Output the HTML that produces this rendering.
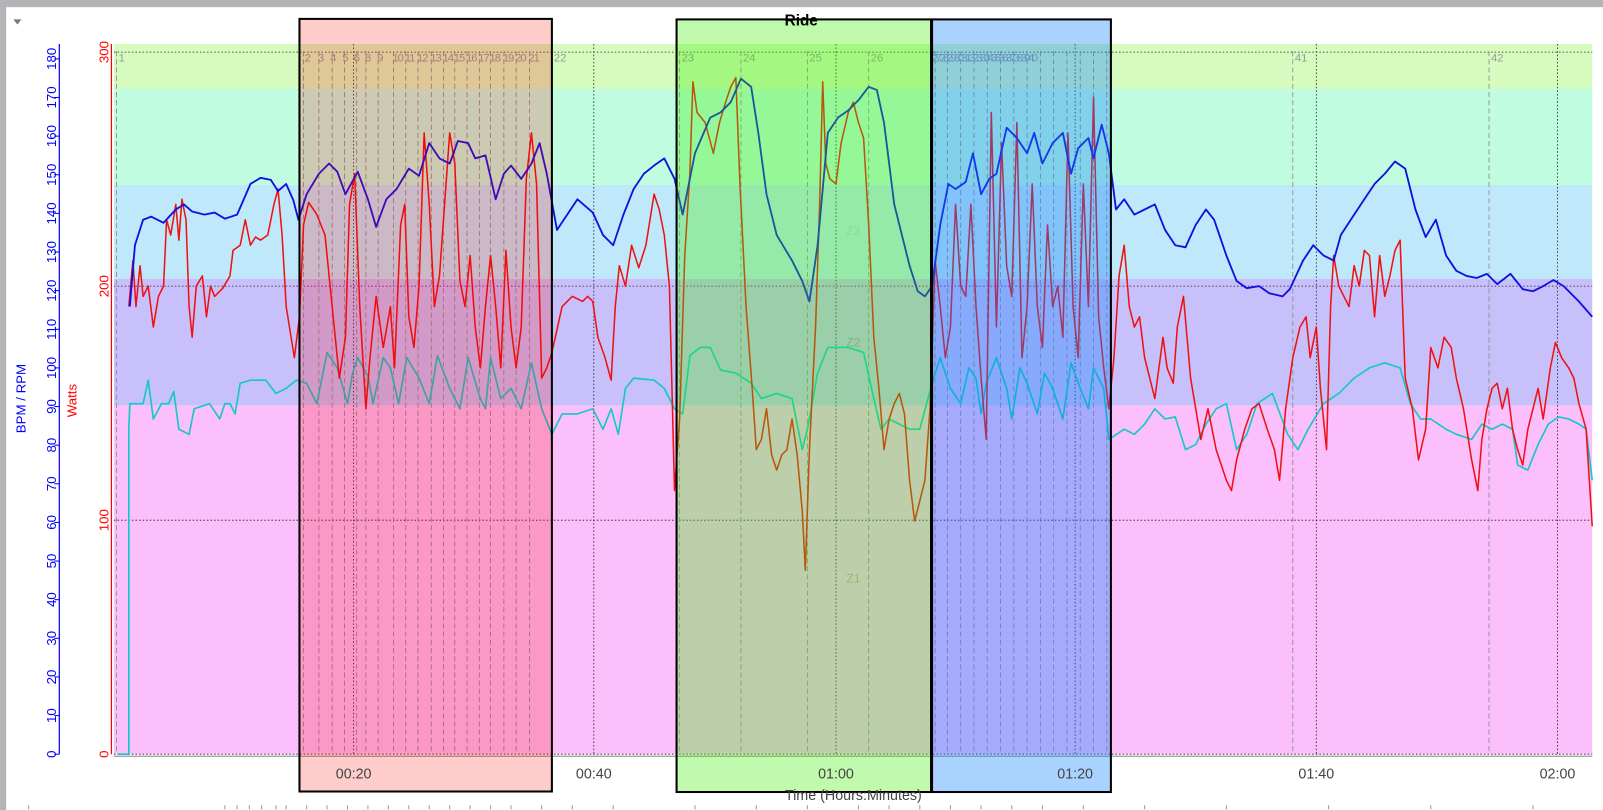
<!DOCTYPE html>
<html><head><meta charset="utf-8"><style>
html,body{margin:0;padding:0;background:#fff;}
svg{display:block;}
</style></head><body>
<svg width="1603" height="810" viewBox="0 0 1568.5 792.6" xmlns="http://www.w3.org/2000/svg" font-family="Liberation Sans, sans-serif">
<rect x="0" y="0" width="1568.5" height="792.6" fill="#fff"/>
<rect x="0" y="0" width="1568.5" height="7" fill="#b4b4b8"/>
<rect x="0" y="0" width="6" height="792.6" fill="#b4b4b8"/>
<path d="M13 19 l8 0 l-4 5 z" fill="#777"/>
<rect x="111.5" y="43" width="1446.5" height="44" fill="#d6fbbf"/>
<rect x="111.5" y="87" width="1446.5" height="94" fill="#c0fde0"/>
<rect x="111.5" y="181" width="1446.5" height="92" fill="#c0e8fb"/>
<rect x="111.5" y="273" width="1446.5" height="124" fill="#c8c0fb"/>
<rect x="111.5" y="397" width="1446.5" height="341" fill="#fbbffb"/>
<g stroke="#222" stroke-width="0.8" stroke-dasharray="1.5,2">
<line x1="111.5" y1="51" x2="1558" y2="51"/><line x1="111.5" y1="280" x2="1558" y2="280"/>
<line x1="111.5" y1="509" x2="1558" y2="509"/><line x1="111.5" y1="738" x2="1558" y2="738"/>
<line x1="346" y1="43" x2="346" y2="740"/><line x1="581" y1="43" x2="581" y2="740"/>
<line x1="818" y1="43" x2="818" y2="740"/><line x1="1052" y1="43" x2="1052" y2="740"/>
<line x1="1288" y1="43" x2="1288" y2="740"/><line x1="1524" y1="43" x2="1524" y2="740"/>
</g>
<line x1="111.5" y1="740" x2="1558" y2="740" stroke="#999" stroke-width="1.2"/>
<g stroke="#888" stroke-width="0.8" stroke-dasharray="5,3">
<line x1="114" y1="50" x2="114" y2="738"/><line x1="297" y1="50" x2="297" y2="738"/><line x1="312" y1="50" x2="312" y2="738"/><line x1="325" y1="50" x2="325" y2="738"/><line x1="337" y1="50" x2="337" y2="738"/><line x1="349" y1="50" x2="349" y2="738"/><line x1="358" y1="50" x2="358" y2="738"/><line x1="370" y1="50" x2="370" y2="738"/><line x1="385" y1="50" x2="385" y2="738"/><line x1="397" y1="50" x2="397" y2="738"/><line x1="409" y1="50" x2="409" y2="738"/><line x1="422" y1="50" x2="422" y2="738"/><line x1="434" y1="50" x2="434" y2="738"/><line x1="445" y1="50" x2="445" y2="738"/><line x1="457" y1="50" x2="457" y2="738"/><line x1="469" y1="50" x2="469" y2="738"/><line x1="480" y1="50" x2="480" y2="738"/><line x1="493" y1="50" x2="493" y2="738"/><line x1="505" y1="50" x2="505" y2="738"/><line x1="518" y1="50" x2="518" y2="738"/><line x1="540" y1="50" x2="540" y2="738"/><line x1="665" y1="50" x2="665" y2="738"/><line x1="725" y1="50" x2="725" y2="738"/><line x1="790" y1="50" x2="790" y2="738"/><line x1="850" y1="50" x2="850" y2="738"/>
<line x1="915" y1="50" x2="915" y2="738"/><line x1="927" y1="50" x2="927" y2="738"/><line x1="940" y1="50" x2="940" y2="738"/><line x1="953" y1="50" x2="953" y2="738"/><line x1="966" y1="50" x2="966" y2="738"/><line x1="979" y1="50" x2="979" y2="738"/><line x1="992" y1="50" x2="992" y2="738"/><line x1="1005" y1="50" x2="1005" y2="738"/><line x1="1018" y1="50" x2="1018" y2="738"/><line x1="1031" y1="50" x2="1031" y2="738"/><line x1="1044" y1="50" x2="1044" y2="738"/><line x1="1057" y1="50" x2="1057" y2="738"/><line x1="1070" y1="50" x2="1070" y2="738"/><line x1="1083" y1="50" x2="1083" y2="738"/>
<line x1="1265" y1="50" x2="1265" y2="738"/><line x1="1457" y1="50" x2="1457" y2="738"/>
</g>
<g fill="#999" font-size="11">
<text x="116" y="60">1</text><text x="298" y="60">2</text><text x="311" y="60">3</text><text x="323" y="60">4</text><text x="335" y="60">5</text><text x="346" y="60">6</text><text x="357" y="60">8</text><text x="369" y="60">9</text><text x="384" y="60" letter-spacing="-1">10</text><text x="396" y="60" letter-spacing="-1">11</text><text x="408" y="60" letter-spacing="-1">12</text><text x="421" y="60" letter-spacing="-1">13</text><text x="433" y="60" letter-spacing="-1">14</text><text x="444" y="60" letter-spacing="-1">15</text><text x="456" y="60" letter-spacing="-1">16</text><text x="468" y="60" letter-spacing="-1">17</text><text x="479" y="60" letter-spacing="-1">18</text><text x="492" y="60" letter-spacing="-1">19</text><text x="504" y="60" letter-spacing="-1">20</text><text x="517" y="60" letter-spacing="-1">21</text><text x="542" y="60">22</text><text x="667" y="60">23</text><text x="727" y="60">24</text><text x="792" y="60">25</text><text x="852" y="60">26</text>
<text x="912" y="60" letter-spacing="-2.5">2728293031323334353637383940</text>
<text x="1267" y="60">41</text><text x="1459" y="60">42</text>
</g>
<g font-size="12">
<text x="828" y="230" fill="#9dd">Z3</text><text x="828" y="339" fill="#99b">Z2</text><text x="828" y="570" fill="#c9a">Z1</text>
</g>
<polyline fill="none" stroke="#14c8c8" stroke-width="1.6" stroke-linejoin="round" points="115,738 126,738 126,420 127,395 135,395 140,395 145,372 150,410 158,395 165,395 170,383 175,420 185,425 190,400 205,395 215,410 220,395 225,395 230,405 235,375 245,372 260,372 270,385 280,380 290,372 300,375 310,395 320,345 330,360 340,395 345,365 350,350 360,368 365,395 375,350 382,360 390,395 398,350 410,370 420,395 428,348 440,380 450,400 458,350 470,390 475,400 480,350 490,390 500,380 510,400 520,355 530,400 540,425 550,405 565,405 580,400 590,420 598,400 605,425 612,380 620,370 640,372 650,380 660,400 668,405 675,348 685,340 695,340 705,362 720,365 735,375 745,390 760,385 775,390 785,440 790,420 800,365 810,340 830,340 845,345 855,390 862,420 870,410 880,415 890,420 900,420 912,375 920,350 930,380 940,395 948,360 955,370 960,405 965,375 975,350 985,380 990,410 998,360 1005,375 1015,405 1022,365 1030,380 1040,410 1048,355 1055,375 1065,400 1070,360 1080,380 1085,430 1100,420 1110,425 1120,415 1130,400 1140,410 1150,408 1160,440 1170,435 1180,415 1190,400 1200,395 1210,440 1220,425 1230,395 1245,385 1260,425 1270,440 1280,420 1295,395 1310,385 1325,370 1340,360 1355,355 1370,360 1380,395 1390,410 1400,410 1415,420 1425,425 1440,430 1450,415 1460,420 1470,415 1480,420 1485,455 1495,460 1505,435 1515,415 1525,408 1535,410 1545,415 1552,420 1558,470"/>
<polyline fill="none" stroke="#f01010" stroke-width="1.5" stroke-linejoin="round" points="126,300 130,255 133,300 137,260 140,290 145,280 150,320 155,290 160,280 163,215 167,230 172,200 175,235 178,195 182,215 185,300 188,330 192,280 198,270 202,310 206,280 210,290 218,282 225,270 228,245 235,240 240,215 245,240 250,232 255,235 262,230 268,200 272,185 276,230 280,300 288,350 293,310 297,220 302,198 310,210 318,230 325,300 332,370 338,330 342,200 347,170 352,300 358,400 362,350 368,290 375,340 382,300 386,360 392,220 396,200 400,310 405,340 410,280 415,130 420,200 425,300 430,270 435,200 440,130 445,160 450,275 455,300 460,250 465,320 470,360 475,300 480,250 485,300 490,360 495,245 500,320 505,360 510,320 515,175 520,130 525,180 530,370 535,360 540,345 550,300 560,290 570,295 575,290 580,295 585,330 592,350 598,372 602,300 606,260 612,280 618,240 625,262 632,240 640,190 645,205 650,230 655,280 660,480 665,410 670,250 675,170 678,80 682,110 690,120 698,150 704,120 710,100 715,85 720,76 724,180 730,300 736,380 740,440 745,430 750,400 755,445 760,460 765,445 770,440 775,410 780,445 785,500 788,558 792,440 798,320 802,200 805,80 808,160 812,175 818,180 823,140 830,110 835,100 840,120 845,135 850,220 855,330 860,380 865,440 870,410 875,395 880,385 885,405 890,470 895,510 900,490 905,470 910,400 915,255 920,300 925,350 930,320 935,200 940,280 945,290 950,200 955,300 960,370 965,430 970,110 975,320 980,140 985,260 990,290 995,120 1000,350 1005,300 1010,180 1015,300 1020,340 1025,220 1030,300 1035,280 1040,330 1045,130 1050,300 1055,350 1060,180 1065,300 1070,95 1075,310 1080,360 1085,400 1090,350 1095,270 1100,240 1105,300 1110,320 1115,310 1120,350 1130,390 1138,330 1142,360 1148,375 1152,320 1158,290 1165,370 1170,400 1175,430 1182,400 1190,440 1200,470 1205,480 1210,450 1218,420 1225,400 1232,395 1240,420 1247,440 1252,470 1258,400 1265,350 1272,320 1278,310 1282,350 1288,320 1292,380 1298,440 1302,300 1305,250 1310,280 1320,300 1325,260 1330,280 1335,245 1340,250 1345,310 1350,250 1355,290 1360,270 1365,245 1370,235 1375,370 1382,400 1388,450 1395,420 1400,340 1407,360 1413,330 1420,340 1425,370 1432,400 1440,450 1446,480 1450,430 1455,400 1460,380 1465,375 1470,400 1475,380 1480,420 1485,440 1490,455 1495,420 1500,400 1505,380 1510,410 1517,360 1522,335 1528,350 1535,360 1540,370 1545,395 1552,420 1558,515"/>
<polyline fill="none" stroke="#1010e0" stroke-width="1.8" stroke-linejoin="round" points="127,300 132,240 140,215 148,212 160,218 172,205 180,200 188,207 200,210 210,208 220,214 232,210 245,180 255,174 265,176 272,187 280,180 287,196 292,215 300,190 312,170 322,160 330,168 338,190 350,168 360,195 368,222 378,195 388,185 400,165 410,172 420,140 430,155 440,160 448,138 458,140 465,155 475,152 485,195 493,170 500,162 510,175 520,160 528,140 535,170 545,225 555,210 565,195 580,208 590,230 600,240 610,210 620,185 630,170 640,162 650,155 660,175 668,210 680,150 695,115 705,110 715,100 725,77 735,85 742,130 750,190 760,230 775,255 785,275 792,295 800,240 810,130 820,115 830,108 840,98 850,85 858,88 865,120 875,200 890,260 898,285 905,290 912,280 920,220 928,180 935,185 945,178 952,150 960,190 968,175 975,170 985,125 995,135 1005,150 1012,130 1020,160 1030,140 1040,130 1048,170 1055,145 1065,135 1070,155 1078,122 1085,150 1092,205 1100,195 1110,210 1120,205 1130,200 1140,225 1150,240 1160,242 1170,220 1180,205 1188,215 1200,250 1210,275 1220,282 1232,280 1242,287 1255,290 1262,283 1275,255 1285,240 1295,250 1305,255 1312,230 1325,210 1335,195 1345,180 1355,170 1365,158 1375,165 1385,205 1395,232 1405,215 1415,250 1425,265 1435,270 1445,272 1455,268 1465,278 1478,268 1490,283 1500,285 1510,280 1520,274 1530,280 1545,295 1558,310"/>
<rect x="293" y="18.5" width="247" height="756" fill="rgba(255,0,0,0.2)" stroke="#000" stroke-width="2"/>
<rect x="662" y="19" width="249" height="756" fill="rgba(60,240,0,0.32)" stroke="#000" stroke-width="2"/>
<rect x="912" y="19" width="175" height="756" fill="rgba(20,130,255,0.36)" stroke="#000" stroke-width="2"/>
<text x="784" y="25" font-size="15" font-weight="bold" fill="#000" text-anchor="middle">Ride</text>
<line x1="109" y1="43" x2="109" y2="738" stroke="#f00" stroke-width="1.2"/>
<line x1="58" y1="43" x2="58" y2="738" stroke="#00f" stroke-width="1.2"/>
<g font-size="13" fill="#f00">
<text transform="translate(106,51) rotate(-90)" text-anchor="middle">300</text>
<text transform="translate(106,280) rotate(-90)" text-anchor="middle">200</text>
<text transform="translate(106,509) rotate(-90)" text-anchor="middle">100</text>
<text transform="translate(106,738) rotate(-90)" text-anchor="middle">0</text>
<text transform="translate(75,392) rotate(-90)" text-anchor="middle">Watts</text>
</g>
<g stroke="#00f" stroke-width="1">
<line x1="53" y1="738" x2="58" y2="738"/><line x1="53" y1="700.2" x2="58" y2="700.2"/><line x1="53" y1="662.4" x2="58" y2="662.4"/><line x1="53" y1="624.6" x2="58" y2="624.6"/><line x1="53" y1="586.8" x2="58" y2="586.8"/><line x1="53" y1="549" x2="58" y2="549"/><line x1="53" y1="511.2" x2="58" y2="511.2"/><line x1="53" y1="473.4" x2="58" y2="473.4"/><line x1="53" y1="435.6" x2="58" y2="435.6"/><line x1="53" y1="397.8" x2="58" y2="397.8"/><line x1="53" y1="360" x2="58" y2="360"/><line x1="53" y1="322.2" x2="58" y2="322.2"/><line x1="53" y1="284.4" x2="58" y2="284.4"/><line x1="53" y1="246.6" x2="58" y2="246.6"/><line x1="53" y1="208.8" x2="58" y2="208.8"/><line x1="53" y1="171" x2="58" y2="171"/><line x1="53" y1="133.2" x2="58" y2="133.2"/><line x1="53" y1="95.4" x2="58" y2="95.4"/><line x1="53" y1="57.6" x2="58" y2="57.6"/>
</g>
<g font-size="13" fill="#00f" text-anchor="middle">
<text transform="translate(55,738) rotate(-90)">0</text><text transform="translate(55,700.2) rotate(-90)">10</text><text transform="translate(55,662.4) rotate(-90)">20</text><text transform="translate(55,624.6) rotate(-90)">30</text><text transform="translate(55,586.8) rotate(-90)">40</text><text transform="translate(55,549) rotate(-90)">50</text><text transform="translate(55,511.2) rotate(-90)">60</text><text transform="translate(55,473.4) rotate(-90)">70</text><text transform="translate(55,435.6) rotate(-90)">80</text><text transform="translate(55,397.8) rotate(-90)">90</text><text transform="translate(55,360) rotate(-90)">100</text><text transform="translate(55,322.2) rotate(-90)">110</text><text transform="translate(55,284.4) rotate(-90)">120</text><text transform="translate(55,246.6) rotate(-90)">130</text><text transform="translate(55,208.8) rotate(-90)">140</text><text transform="translate(55,171) rotate(-90)">150</text><text transform="translate(55,133.2) rotate(-90)">160</text><text transform="translate(55,95.4) rotate(-90)">170</text><text transform="translate(55,57.6) rotate(-90)">180</text>
<text transform="translate(25,390) rotate(-90)">BPM / RPM</text>
</g>
<g font-size="14" fill="#444" text-anchor="middle">
<text x="346" y="762">00:20</text><text x="581" y="762">00:40</text><text x="818" y="762">01:00</text><text x="1052" y="762">01:20</text><text x="1288" y="762">01:40</text><text x="1524" y="762">02:00</text>
<text x="835" y="783">Time (Hours:Minutes)</text>
</g>
<g stroke="#999" stroke-width="1">
<path d="M28 788v4M220 788v4M232 788v4M244 788v4M256 788v4M270 788v4M280 788v4M300 788v4M320 788v4M340 788v4M360 788v4M380 788v4M400 788v4M420 788v4M440 788v4M460 788v4M480 788v4M500 788v4M530 788v4M560 788v4M600 788v4M680 788v4M740 788v4M790 788v4M840 788v4M870 788v4M900 788v4M930 788v4M960 788v4M990 788v4M1020 788v4M1060 788v4M1120 788v4M1200 788v4M1300 788v4M1400 788v4M1500 788v4"/>
</g>
</svg>
</body></html>
